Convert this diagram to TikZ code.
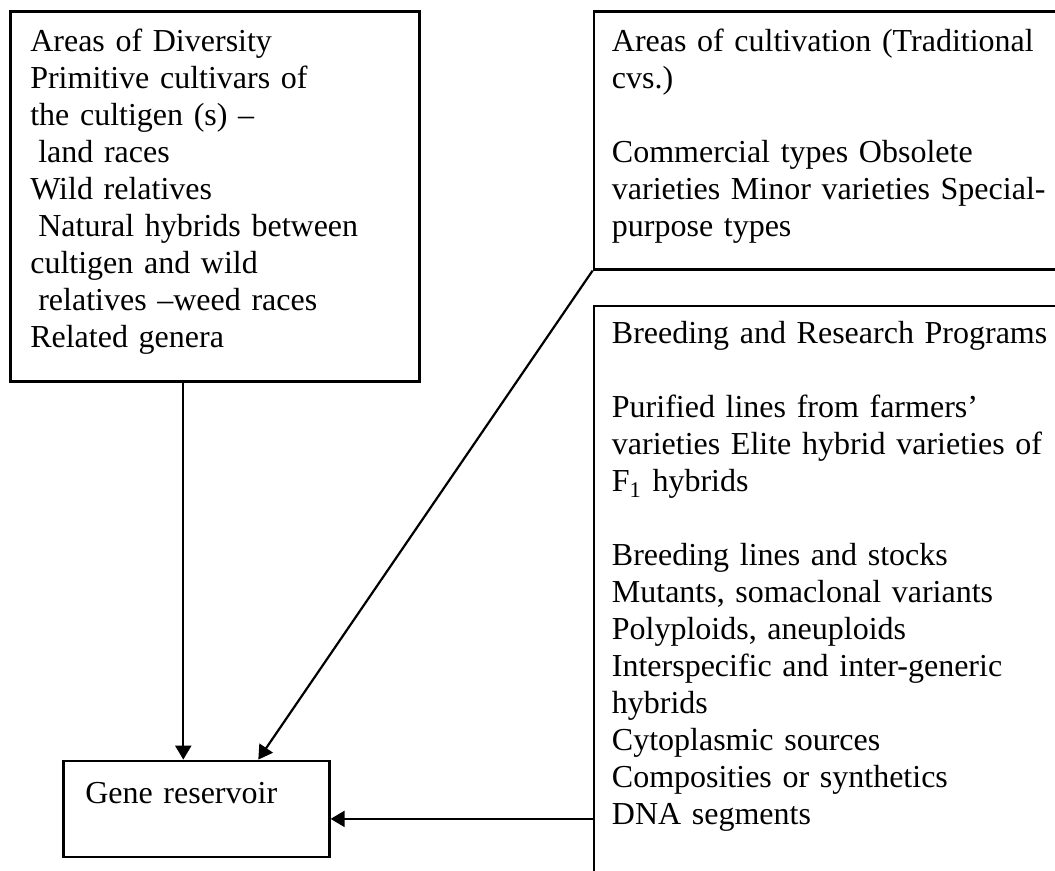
\documentclass[tikz,border=0pt]{standalone}
\usepackage{fontspec}
\setmainfont{Liberation Serif}
\usetikzlibrary{positioning,arrows.meta}

\begin{document}
\begin{tikzpicture}[x=0.5pt,y=-0.5pt,
   box/.style={draw,line width=1.3pt,anchor=north west,align=left,
     inner xsep=10pt,inner ysep=9pt,font=\fontsize{16}{18.5}\selectfont},
   arr/.style={-{Triangle[length=7pt,width=8pt]},line width=1.1pt}]
 \useasboundingbox (0,0) rectangle (1055,871);
 \clip (0,0) rectangle (1055,871);
 \node[box,text width=184.5pt,text height=11pt,text depth=156pt] (div) at (9,10)
   {Areas of Diversity\\Primitive cultivars of\\the cultigen (s) –\\\hspace*{4pt}land races\\Wild relatives\\\hspace*{4pt}Natural hybrids between\\cultigen and wild\\\hspace*{4pt}relatives –weed races\\Related genera};
 \node[box,text width=227pt,inner xsep=9pt,text height=11pt,text depth=100pt,
   right=86pt of div.north east,anchor=north west] (cult)
   {Areas of cultivation (Traditional\\cvs.)\\[18.5pt]Commercial types Obsolete\\varieties Minor varieties Special-\\purpose types};
 \node[box,text width=227pt,inner xsep=9pt,text height=10pt,text depth=281pt,
   below=17pt of cult.south west,anchor=north west] (breed)
   {Breeding and Research Programs\\[18.5pt]Purified lines from farmers’\\varieties Elite hybrid varieties of\\F\textsubscript{1} hybrids\\[18.5pt]Breeding lines and stocks\\Mutants, somaclonal variants\\Polyploids, aneuploids\\Interspecific and inter-generic\\hybrids\\Cytoplasmic sources\\Composities or synthetics\\DNA segments};
 \node[box,text width=111pt,inner xsep=11pt,text height=12.5pt,text depth=17.5pt,
   below right=188.5pt and 26.5pt of div.south west] (gene) {Gene reservoir};
 % arrows into the reservoir
 \coordinate (v) at ([xshift=-6.5pt]gene.north);
 \coordinate (g) at ([yshift=-5pt]gene.east);
 \draw[arr] (v |- div.south) -- (v);
 \draw[arr] (cult.south west) -- ([xshift=31pt]gene.north);
 \draw[arr] (breed.west |- g) -- (g);
\end{tikzpicture}
\end{document}
